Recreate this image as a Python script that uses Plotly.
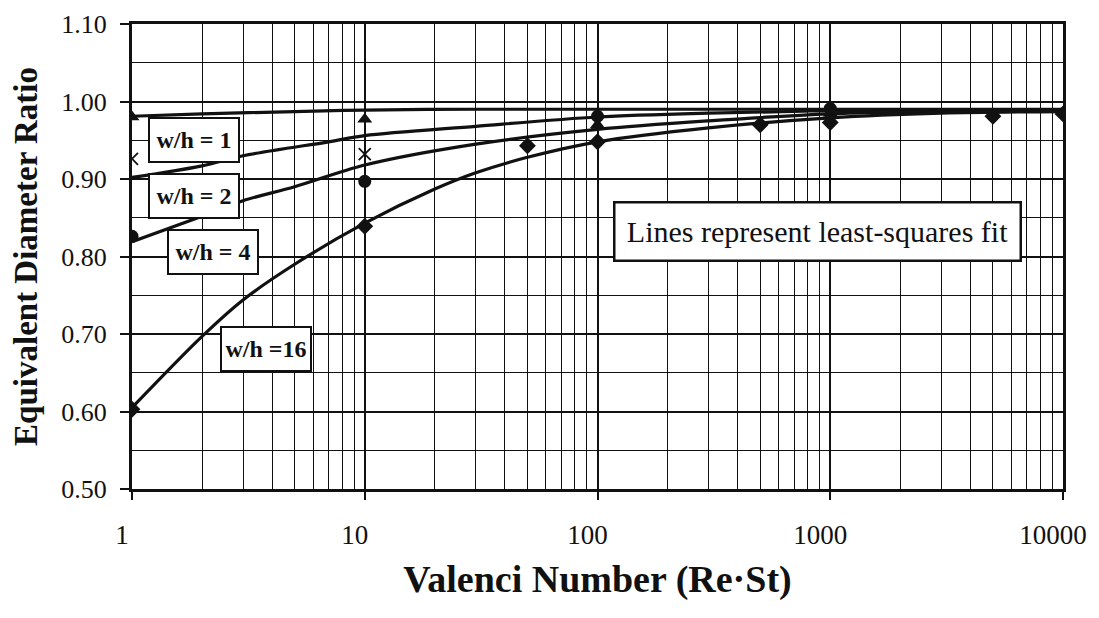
import plotly.graph_objects as go

# ---- measured data points ----
tri_x = [1, 10, 100, 1000]
tri_y = [0.980, 0.977, 0.970, 0.985]        # w/h = 1

cross_x = [1, 10, 100, 1000]
cross_y = [0.926, 0.932, 0.972, 0.986]      # w/h = 2

circ_x = [1, 10, 100, 1000]
circ_y = [0.826, 0.897, 0.981, 0.991]       # w/h = 4

dia_x = [1, 10, 50, 100, 500, 1000, 5000, 10000]
dia_y = [0.603, 0.839, 0.943, 0.948, 0.970, 0.973, 0.981, 0.984]   # w/h = 16

# ---- least-squares fit lines ----
fit1_x = [1, 2, 5, 10, 30, 100, 1000, 10000]
fit1_y = [0.981, 0.984, 0.987, 0.989, 0.990, 0.990, 0.990, 0.990]

fit2_x = [1, 2, 3, 7, 10, 30, 100, 300, 1000, 10000]
fit2_y = [0.902, 0.917, 0.930, 0.948, 0.956, 0.968, 0.980, 0.985, 0.988, 0.989]

fit4_x = [1, 2, 3, 5, 10, 30, 100, 300, 1000, 3000, 10000]
fit4_y = [0.819, 0.852, 0.872, 0.890, 0.918, 0.945, 0.964, 0.975, 0.984, 0.987, 0.988]

fit16_x = [1, 2, 3, 5, 10, 20, 30, 50, 100, 300, 1000, 3000, 10000]
fit16_y = [0.605, 0.697, 0.744, 0.790, 0.843, 0.887, 0.908,
           0.928, 0.948, 0.966, 0.979, 0.985, 0.987]

x_ticks = [1, 10, 100, 1000, 10000]
x_tick_text = ["1", "10", "100", "1000", "10000"]

labels = ["w/h = 1", "w/h = 2", "w/h = 4", "w/h =16"]
note = "Lines represent least-squares fit"

FONT = "Liberation Serif"
INK = "#111111"

fig = go.Figure()

for fx, fy in [(fit1_x, fit1_y), (fit2_x, fit2_y), (fit4_x, fit4_y), (fit16_x, fit16_y)]:
    fig.add_trace(go.Scatter(x=fx, y=fy, mode="lines",
                             line=dict(color=INK, width=3.2, shape="spline", smoothing=0.9),
                             showlegend=False, hoverinfo="skip"))

fig.add_trace(go.Scatter(x=tri_x, y=tri_y, mode="markers",
                         marker=dict(symbol="triangle-up", size=13, color=INK), showlegend=False))
fig.add_trace(go.Scatter(x=cross_x, y=cross_y, mode="markers",
                         marker=dict(symbol="x-thin-open", size=12, color=INK,
                                     line=dict(width=1.8, color=INK)), showlegend=False))
fig.add_trace(go.Scatter(x=circ_x, y=circ_y, mode="markers",
                         marker=dict(symbol="circle", size=13, color=INK), showlegend=False))
fig.add_trace(go.Scatter(x=dia_x, y=dia_y, mode="markers",
                         marker=dict(symbol="diamond", size=13, color=INK), showlegend=False))

# label boxes (paper coordinates, centre of each box)
box_pos = [(0.0666, 0.750), (0.067, 0.631), (0.0875, 0.510), (0.1434, 0.302)]
for txt, (px, py) in zip(labels, box_pos):
    fig.add_annotation(xref="paper", yref="paper", x=px, y=py,
                       xanchor="center", yanchor="middle",
                       text="<b>%s</b>" % txt,
                       showarrow=False, font=dict(family=FONT, size=24, color=INK),
                       bgcolor="white", bordercolor=INK, borderwidth=2,
                       width=86, height=40, borderpad=1)

fig.add_annotation(xref="paper", yref="paper", x=0.7358, y=0.553,
                   xanchor="center", yanchor="middle", text=note,
                   showarrow=False, font=dict(family=FONT, size=30, color=INK),
                   bgcolor="white", bordercolor=INK, borderwidth=2.5,
                   width=402, height=54, borderpad=1)

# page body has an 8px margin: size the figure so the plot lands where the reference has it
fig.update_layout(
    width=1091, height=610,
    margin=dict(l=124, r=36, t=16, b=129),
    paper_bgcolor="white", plot_bgcolor="white",
    font=dict(family=FONT, color=INK),
    showlegend=False,
)

fig.update_xaxes(
    type="log", range=[0, 4], automargin=False,
    tickvals=x_ticks, ticktext=x_tick_text,
    tickfont=dict(family=FONT, size=27, color=INK),
    ticks="outside", ticklen=8, tickwidth=2, tickcolor=INK,
    ticklabelstandoff=12, ticklabelshift=-10, ticklabeloverflow="allow",
    showgrid=True, gridcolor=INK, gridwidth=2,
    minor=dict(dtick="D1", showgrid=True, gridcolor=INK, gridwidth=1.2, ticks=""),
    showline=True, linecolor=INK, linewidth=3, mirror=True,
    zeroline=False,
    title=dict(text="<b>Valenci Number (Re·St)</b>",
               font=dict(family=FONT, size=38, color=INK), standoff=16),
)

fig.update_yaxes(
    range=[0.5, 1.1], dtick=0.1, tick0=0.5, tickformat=".2f", automargin=False,
    tickfont=dict(family=FONT, size=26, color=INK),
    ticks="outside", ticklen=9, tickwidth=2, tickcolor=INK,
    ticklabelstandoff=8, ticklabeloverflow="allow",
    showgrid=True, gridcolor=INK, gridwidth=2,
    minor=dict(dtick=0.05, showgrid=True, gridcolor=INK, gridwidth=1.2, ticks=""),
    showline=True, linecolor=INK, linewidth=3, mirror=True,
    zeroline=False,
    title=dict(text="<b>Equivalent Diameter Ratio</b>",
               font=dict(family=FONT, size=33, color=INK), standoff=14),
)

fig.write_html("out.html")
